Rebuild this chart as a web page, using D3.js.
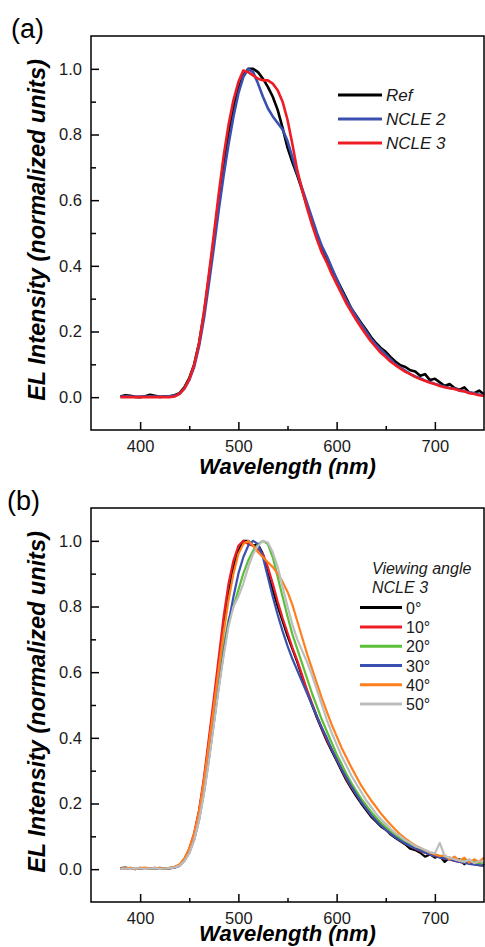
<!DOCTYPE html>
<html>
<head>
<meta charset="utf-8">
<script src="https://cdn.jsdelivr.net/npm/d3@7"></script>
<style>
  body { margin: 0; background: #fff; }
  svg text { font-family: "Liberation Sans", Arial, sans-serif; }
</style>
</head>
<body>
<script>
// wavelength grid (nm), shared by every spectrum
const wavelengths = [380, 385, 390, 395, 400, 405, 410, 415, 420, 425, 430, 435,
  440, 445, 450, 455, 460, 465, 470, 475, 480, 485, 490, 495, 500,
  505, 510, 515, 520, 525, 530, 535, 540, 545, 550, 555, 560,
  565, 570, 575, 580, 585, 590, 595, 600, 605, 610, 615, 620,
  625, 630, 635, 640, 645, 650, 655, 660, 665, 670, 675, 680,
  685, 690, 695, 700, 705, 710, 715, 720, 725, 730, 735, 740, 745, 750];

// panel (a)
const namesA = ["Ref", "NCLE 2", "NCLE 3"];
const colorsA = ["#000000", "#3a50b0", "#ee1c24"];
const refEL = [0.002, 0.006, 0.004, 0.001, 0.000, 0.003, 0.007, 0.004, 0.001, 0.002, 0.003, 0.006,
  0.012, 0.03, 0.058, 0.1, 0.165, 0.255, 0.365, 0.48, 0.6, 0.71, 0.805, 0.88, 0.94,
  0.98, 1.0, 1.0, 0.99, 0.97, 0.945, 0.915, 0.875, 0.82, 0.76, 0.715, 0.675,
  0.63, 0.58, 0.535, 0.49, 0.455, 0.425, 0.39, 0.36, 0.33, 0.3, 0.27, 0.248,
  0.226, 0.205, 0.183, 0.165, 0.15, 0.138, 0.122, 0.108, 0.097, 0.092, 0.082, 0.078,
  0.065, 0.07, 0.052, 0.056, 0.045, 0.034, 0.04, 0.028, 0.022, 0.03, 0.014, 0.012, 0.02, 0.008];
const ncle2EL = [0.001, 0.003, 0.002, 0.001, 0.002, 0.002, 0.003, 0.002, 0.001, 0.002, 0.003, 0.004,
  0.01, 0.026, 0.052, 0.092, 0.155, 0.24, 0.345, 0.455, 0.57, 0.675, 0.77, 0.855, 0.925,
  0.975, 1.0, 0.99, 0.955, 0.915, 0.88, 0.855, 0.835, 0.815, 0.78, 0.73, 0.68,
  0.635, 0.59, 0.545, 0.5, 0.46, 0.43, 0.395, 0.36, 0.325, 0.295, 0.27, 0.245,
  0.222, 0.2, 0.178, 0.16, 0.145, 0.13, 0.115, 0.1, 0.09, 0.08, 0.07, 0.063,
  0.058, 0.05, 0.046, 0.04, 0.036, 0.032, 0.028, 0.026, 0.02, 0.018, 0.014, 0.012, 0.008, 0.006];
const ncle3EL = [0.0, 0.0, 0.0, 0.0, 0.0, 0.0, 0.0, 0.0, 0.0, 0.0, 0.0, 0.002,
  0.01, 0.026, 0.055, 0.098, 0.165, 0.26, 0.375, 0.495, 0.62, 0.735, 0.83, 0.905, 0.96,
  0.995, 0.99, 0.98, 0.97, 0.965, 0.965, 0.955, 0.935, 0.9, 0.845, 0.77, 0.69,
  0.63, 0.575, 0.525, 0.48, 0.44, 0.41, 0.375, 0.345, 0.315, 0.285, 0.26, 0.235,
  0.212, 0.19, 0.17, 0.152, 0.135, 0.122, 0.108, 0.097, 0.087, 0.077, 0.07, 0.062,
  0.055, 0.05, 0.044, 0.04, 0.034, 0.03, 0.027, 0.025, 0.02, 0.018, 0.012, 0.01, 0.006, 0.004];

// panel (b): NCLE 3 at several viewing angles
const headerB = ["Viewing angle", "NCLE 3"];
const namesB = ["0\u00b0", "10\u00b0", "20\u00b0", "30\u00b0", "40\u00b0", "50\u00b0"];
const colorsB = ["#000000", "#ee1c24", "#5cbf3a", "#3a50b0", "#ff7f1e", "#bdbdbd"];
const angle0 = [0.003, 0.005, 0.002, 0.0, 0.004, 0.002, 0.003, 0.001, 0.004, 0.002, 0.003, 0.006,
  0.012, 0.03, 0.06, 0.105, 0.175, 0.27, 0.385, 0.5, 0.62, 0.74, 0.84, 0.92, 0.97,
  1.0, 1.0, 0.985, 0.99, 0.96, 0.9, 0.85, 0.8, 0.755, 0.71, 0.67, 0.63,
  0.585, 0.54, 0.5, 0.46, 0.425, 0.39, 0.36, 0.33, 0.3, 0.27, 0.245, 0.222,
  0.2, 0.18, 0.16, 0.145, 0.13, 0.12, 0.105, 0.095, 0.085, 0.075, 0.062, 0.058,
  0.05, 0.038, 0.045, 0.035, 0.04, 0.022, 0.035, 0.025, 0.03, 0.015, 0.028, 0.02, 0.025, 0.012];
const angle10 = [0.002, 0.003, 0.001, 0.002, 0.003, 0.001, 0.002, 0.004, 0.002, 0.003, 0.002, 0.005,
  0.012, 0.03, 0.062, 0.11, 0.18, 0.28, 0.4, 0.52, 0.645, 0.77, 0.87, 0.94, 0.985,
  1.0, 0.99, 0.985, 0.975, 0.96, 0.92, 0.87, 0.815, 0.765, 0.72, 0.675, 0.635,
  0.59, 0.545, 0.505, 0.465, 0.43, 0.395, 0.365, 0.335, 0.305, 0.275, 0.25, 0.228,
  0.205, 0.185, 0.165, 0.15, 0.135, 0.12, 0.108, 0.098, 0.088, 0.078, 0.07, 0.062,
  0.055, 0.05, 0.045, 0.04, 0.036, 0.032, 0.03, 0.025, 0.022, 0.02, 0.018, 0.015, 0.012, 0.01];
const angle20 = [0.001, 0.002, 0.004, 0.002, 0.001, 0.003, 0.002, 0.001, 0.003, 0.002, 0.004, 0.006,
  0.012, 0.028, 0.058, 0.1, 0.165, 0.255, 0.36, 0.47, 0.58, 0.68, 0.76, 0.8, 0.85,
  0.9, 0.94, 0.97, 0.99, 1.0, 0.99, 0.95, 0.89, 0.83, 0.77, 0.715, 0.67,
  0.625, 0.58, 0.535, 0.495, 0.455, 0.42, 0.385, 0.35, 0.32, 0.29, 0.262, 0.238,
  0.215, 0.195, 0.175, 0.158, 0.142, 0.128, 0.115, 0.105, 0.092, 0.083, 0.075, 0.065,
  0.06, 0.055, 0.048, 0.045, 0.04, 0.035, 0.032, 0.03, 0.025, 0.03, 0.02, 0.025, 0.015, 0.02];
const angle30 = [0.002, 0.001, 0.003, 0.002, 0.001, 0.002, 0.003, 0.002, 0.001, 0.002, 0.003, 0.004,
  0.01, 0.025, 0.05, 0.09, 0.15, 0.235, 0.335, 0.445, 0.555, 0.66, 0.75, 0.83, 0.9,
  0.95, 0.985, 1.0, 0.99, 0.95, 0.89, 0.83, 0.775, 0.725, 0.68, 0.64, 0.605,
  0.57, 0.535, 0.5, 0.465, 0.43, 0.4, 0.365, 0.335, 0.305, 0.278, 0.252, 0.228,
  0.205, 0.185, 0.165, 0.148, 0.133, 0.12, 0.108, 0.097, 0.087, 0.078, 0.07, 0.063,
  0.057, 0.05, 0.045, 0.04, 0.036, 0.032, 0.03, 0.026, 0.022, 0.02, 0.016, 0.014, 0.012, 0.01];
const angle40 = [0.003, 0.002, 0.004, 0.001, 0.003, 0.005, 0.002, 0.004, 0.003, 0.002, 0.004, 0.007,
  0.014, 0.032, 0.062, 0.108, 0.175, 0.27, 0.38, 0.495, 0.61, 0.72, 0.82, 0.9, 0.96,
  0.99, 1.0, 0.985, 0.965, 0.95, 0.935, 0.92, 0.9, 0.875, 0.845, 0.805, 0.755,
  0.705, 0.655, 0.61, 0.565, 0.52, 0.48, 0.44, 0.405, 0.37, 0.34, 0.31, 0.282,
  0.255, 0.232, 0.21, 0.19, 0.17, 0.152, 0.135, 0.12, 0.105, 0.093, 0.082, 0.072,
  0.065, 0.058, 0.05, 0.045, 0.04, 0.042, 0.03, 0.038, 0.025, 0.035, 0.02, 0.03, 0.022, 0.035];
const angle50 = [0.0, 0.002, 0.001, 0.003, 0.002, 0.001, 0.002, 0.003, 0.001, 0.002, 0.003, 0.005,
  0.01, 0.024, 0.048, 0.088, 0.148, 0.23, 0.33, 0.44, 0.55, 0.65, 0.74, 0.8, 0.83,
  0.87, 0.92, 0.96, 0.985, 1.0, 0.995, 0.965, 0.92, 0.86, 0.8, 0.745, 0.7,
  0.665, 0.63, 0.59, 0.545, 0.5, 0.455, 0.415, 0.38, 0.345, 0.315, 0.285, 0.26,
  0.235, 0.21, 0.19, 0.17, 0.152, 0.138, 0.122, 0.11, 0.1, 0.088, 0.08, 0.07,
  0.065, 0.058, 0.052, 0.048, 0.08, 0.04, 0.035, 0.03, 0.026, 0.022, 0.03, 0.018, 0.025, 0.02];

const xMajor = [400, 500, 600, 700];
const xMinor = [450, 550, 650];
const yMajor = [0.0, 0.2, 0.4, 0.6, 0.8, 1.0];
const yMinor = [0.1, 0.3, 0.5, 0.7, 0.9];

const width = 485;
const height = 947;

const svg = d3.select("body").append("svg")
    .attr("width", width)
    .attr("height", height);

function drawPanel(opts) {
    const { top, bottom, left, right } = opts;

    const x = d3.scaleLinear().domain([350, 750]).range([left, right]);
    const y = d3.scaleLinear().domain([-0.1, 1.1]).range([bottom, top]);

    const g = svg.append("g");

    // spectra
    const line = d3.line()
        .x((d, i) => x(wavelengths[i]))
        .y(d => y(d));

    g.selectAll("path.spectrum")
        .data(opts.series)
        .enter().append("path")
        .attr("class", "spectrum")
        .attr("d", line)
        .attr("fill", "none")
        .attr("stroke", (d, i) => opts.colors[i])
        .attr("stroke-width", opts.lineWidth)
        .attr("stroke-linejoin", "round");

    // axes, ticks pointing inward
    g.append("g")
        .attr("transform", `translate(0,${bottom})`)
        .call(d3.axisBottom(x).tickValues(xMajor).tickSize(-8).tickPadding(10));
    g.append("g")
        .attr("transform", `translate(0,${bottom})`)
        .call(d3.axisBottom(x).tickValues(xMinor).tickSize(-4).tickFormat(""));
    g.append("g")
        .attr("transform", `translate(${left},0)`)
        .call(d3.axisLeft(y).tickValues(yMajor).tickSize(-8).tickPadding(9).tickFormat(d3.format(".1f")));
    g.append("g")
        .attr("transform", `translate(${left},0)`)
        .call(d3.axisLeft(y).tickValues(yMinor).tickSize(-5).tickFormat(""));

    g.selectAll(".domain").remove();
    g.selectAll(".tick line").attr("stroke", "#000").attr("stroke-width", 1.5);
    g.selectAll(".tick text")
        .attr("fill", "#1a1a1a")
        .style("font-size", "16.5px");

    // frame
    g.append("rect")
        .attr("x", left)
        .attr("y", top)
        .attr("width", right - left)
        .attr("height", bottom - top)
        .attr("fill", "none")
        .attr("stroke", "#000")
        .attr("stroke-width", 1.5);

    // axis titles
    g.append("text")
        .attr("x", (left + right) / 2)
        .attr("y", bottom + opts.titleOffset)
        .attr("text-anchor", "middle")
        .style("font-size", "22px")
        .style("font-weight", "bold")
        .style("font-style", "italic")
        .text("Wavelength (nm)");

    g.append("text")
        .attr("transform", `translate(45,${(top + bottom) / 2 - 3}) rotate(-90)`)
        .attr("text-anchor", "middle")
        .style("font-size", "23.5px")
        .style("font-weight", "bold")
        .style("font-style", "italic")
        .text("EL Intensity (normalized units)");

    // panel letter
    g.append("text")
        .attr("x", opts.labelX)
        .attr("y", top + 2)
        .style("font-size", "27px")
        .text(opts.label);

    // legend
    const leg = g.append("g");
    let rowY = opts.legendTop;
    (opts.header || []).forEach(h => {
        leg.append("text")
            .attr("x", opts.headerX)
            .attr("y", rowY + 5)
            .style("font-size", "16px")
            .style("font-style", "italic")
            .attr("fill", "#1a1a1a")
            .text(h);
        rowY += opts.legendStep;
    });
    opts.names.forEach((name, i) => {
        const yy = rowY + i * opts.legendStep;
        leg.append("line")
            .attr("x1", opts.legendX1)
            .attr("x2", opts.legendX2)
            .attr("y1", yy)
            .attr("y2", yy)
            .attr("stroke", opts.colors[i])
            .attr("stroke-width", 3);
        leg.append("text")
            .attr("x", opts.legendX2 + 4)
            .attr("y", yy + 6)
            .style("font-size", opts.legendFont)
            .style("font-style", opts.legendItalic ? "italic" : "normal")
            .attr("fill", "#1a1a1a")
            .text(name);
    });
}

drawPanel({
    top: 36, bottom: 430, left: 91, right: 484,
    series: [refEL, ncle2EL, ncle3EL],
    colors: colorsA, names: namesA,
    lineWidth: 2.6,
    label: "(a)", labelX: 11, titleOffset: 44,
    legendTop: 95, legendStep: 24, legendX1: 338, legendX2: 382,
    legendFont: "17px", legendItalic: true
});

drawPanel({
    top: 508, bottom: 902, left: 91, right: 484,
    series: [angle0, angle10, angle20, angle30, angle40, angle50],
    colors: colorsB, names: namesB,
    lineWidth: 2.2,
    label: "(b)", labelX: 7, titleOffset: 39,
    header: headerB, headerX: 372,
    legendTop: 569, legendStep: 19.3, legendX1: 360, legendX2: 402,
    legendFont: "16px", legendItalic: false
});
</script>
</body>
</html>
